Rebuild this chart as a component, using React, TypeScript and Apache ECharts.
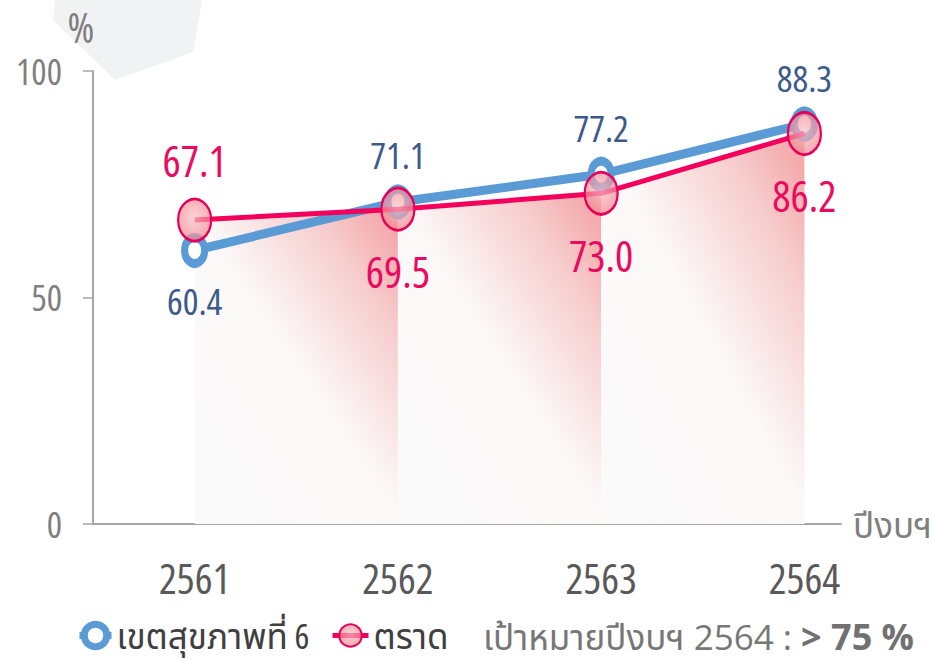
import React, { useEffect, useRef } from "react";
import * as echarts from "echarts";

const categories = ["2561", "2562", "2563", "2564"];
const region6 = [60.4, 71.1, 77.2, 88.3];
const trat = [67.1, 69.5, 73.0, 86.2];
const yTicks = [0, 50, 100];
const seriesNames = ["เขตสุขภาพที่ 6", "ตราด"];
const axisName = "ปีงบฯ";
const unitLabel = "%";
const targetLabel = "เป้าหมายปีงบฯ 2564 :";
const targetValue = "> 75 %";

const FONT = "'Open Sans', 'Noto Sans Thai', 'Noto Sans', sans-serif";
const TARGET_COLOR = "#777777";
const TARGET_BOLD_COLOR = "#717171";

export default function App() {
  const ref = useRef<HTMLDivElement>(null);
  useEffect(() => {
    if (!ref.current) return;
    const chart = echarts.init(ref.current, null, { renderer: "svg" });
    const xs = categories.map((_, i) => i + 1);
    const blueData = region6.map((v, i) => ({
      value: [xs[i], v],
      label: { offset: [0, v >= trat[i] ? -47 : 50] },
    }));
    const redData = trat.map((v, i) => ({
      value: [xs[i], v],
      label: { offset: [0, v > region6[i] ? -60 : 62] },
    }));
    const areaData = trat.map((v, i) => [xs[i], v]);

    const legendBase = {
      top: 618,
      padding: 0,
      itemWidth: 32,
      itemHeight: 28,
      textStyle: { fontSize: 35, lineHeight: 28, color: "#404040", fontFamily: FONT },
    };

    chart.setOption({
      animation: false,
      textStyle: { fontFamily: FONT },
      grid: { left: 93, right: 91, top: 71, bottom: 136, outerBoundsMode: "none", containLabel: false },
      legend: [
        {
          ...legendBase,
          left: 76,
          data: [{ name: seriesNames[0], itemStyle: { borderWidth: 7 }, lineStyle: { width: 7 } }],
        },
        {
          ...legendBase,
          left: 330,
          itemWidth: 36,
          data: [{ name: seriesNames[1], lineStyle: { width: 5 } }],
        },
      ],
      xAxis: {
        type: "value",
        min: 0.5,
        max: 4.18,
        name: axisName,
        nameLocation: "end",
        nameGap: 12,
        nameTextStyle: { fontSize: 35, color: "#7f7f7f", padding: [24, 0, 0, 0], fontFamily: FONT },
        axisLine: { show: true, lineStyle: { color: "#a6a6a6", width: 2 } },
        axisTick: {
          show: true,
          inside: true,
          length: 12,
          customValues: [1.5, 2.5, 3.5],
          lineStyle: { color: "#a6a6a6", width: 1.5 },
        },
        axisLabel: {
          customValues: xs,
          formatter: (v: number) => categories[Math.round(v) - 1] ?? "",
          fontSize: 42,
          color: "#595959",
          margin: 32,
          fontFamily: FONT,
        },
        splitLine: { show: false },
      },
      yAxis: {
        type: "value",
        min: 0,
        max: 100,
        interval: 50,
        axisLine: { show: true, lineStyle: { color: "#a6a6a6", width: 2 } },
        axisTick: { show: true, length: 10, lineStyle: { color: "#a6a6a6", width: 1.5 } },
        axisLabel: {
          fontSize: 36,
          color: "#7f7f7f",
          margin: 31,
          fontFamily: FONT,
          formatter: (v: number) => (yTicks.includes(v) ? String(v) : ""),
        },
        splitLine: { show: false },
      },
      graphic: [
        {
          type: "polygon",
          z: -10,
          shape: { points: [[55, 0], [53, 20], [115, 80], [193, 52], [202, 0]] },
          style: { fill: "#f1f2f4" },
        },
        {
          type: "text",
          x: 81,
          y: 27,
          style: {
            text: unitLabel,
            fontSize: 41,
            fill: "#7f7f7f",
            fontFamily: FONT,
            align: "center",
            verticalAlign: "middle",
          },
        },
        {
          type: "text",
          x: 792,
          y: 636,
          style: {
            text: targetLabel,
            fontSize: 35,
            fill: TARGET_COLOR,
            fontFamily: FONT,
            align: "right",
            verticalAlign: "middle",
          },
        },
        {
          type: "text",
          x: 914,
          y: 636,
          style: {
            text: targetValue,
            fontSize: 36,
            fontWeight: "bold",
            fill: TARGET_BOLD_COLOR,
            fontFamily: FONT,
            align: "right",
            verticalAlign: "middle",
          },
        },
      ],
      series: [
        {
          type: "custom",
          silent: true,
          z: 1,
          data: areaData,
          renderItem: (params: any, api: any) => {
            const i = params.dataIndex;
            if (i >= areaData.length - 1) return null;
            const p0 = api.coord(areaData[i]);
            const p1 = api.coord(areaData[i + 1]);
            const b0 = api.coord([areaData[i][0], 0]);
            const b1 = api.coord([areaData[i + 1][0], 0]);
            return {
              type: "polygon",
              shape: { points: [p0, p1, b1, b0] },
              style: {
                fill: new echarts.graphic.LinearGradient(0.15, 1, 1, 0.1, [
                  { offset: 0, color: "rgba(250,250,250,1)" },
                  { offset: 0.5, color: "rgba(252,248,248,1)" },
                  { offset: 0.82, color: "rgba(247,205,205,1)" },
                  { offset: 1, color: "rgba(244,170,172,1)" },
                ]),
              },
            };
          },
        },
        {
          name: seriesNames[0],
          type: "line",
          z: 3,
          data: blueData,
          symbol: "circle",
          symbolSize: [20, 26],
          lineStyle: { color: "#5b9bd5", width: 9 },
          itemStyle: { color: "#ffffff", borderColor: "#5b9bd5", borderWidth: 8 },
          label: {
            show: true,
            position: "inside",
            fontSize: 37,
            color: "#3c5a8c",
            fontFamily: FONT,
            formatter: (p: any) => p.value[1].toFixed(1),
          },
        },
        {
          name: seriesNames[1],
          type: "line",
          z: 4,
          data: redData,
          symbol: "circle",
          symbolSize: [33, 42],
          lineStyle: { color: "#f2005c", width: 5 },
          itemStyle: {
            color: new echarts.graphic.RadialGradient(0.5, 0.45, 0.6, [
              { offset: 0, color: "rgba(250,195,200,0.7)" },
              { offset: 1, color: "rgba(238,125,135,0.7)" },
            ]),
            borderColor: "#e6005a",
            borderWidth: 2.5,
          },
          label: {
            show: true,
            position: "inside",
            fontSize: 43,
            color: "#ea0a5e",
            fontFamily: FONT,
            formatter: (p: any) => p.value[1].toFixed(1),
          },
        },
      ],
    });
    return () => chart.dispose();
  }, []);
  const css =
    ".narrow-chart svg text { font-stretch: 75% !important; }" +
    `.narrow-chart svg text[fill="${TARGET_COLOR}"] { font-stretch: 90% !important; }` +
    `.narrow-chart svg text[fill="${TARGET_BOLD_COLOR}"] { font-stretch: 100% !important; }`;
  return (
    <>
      <style>{css}</style>
      <div
        ref={ref}
        className="narrow-chart"
        style={{ width: 932, height: 660, position: "absolute", left: 0, top: 0 }}
      />
    </>
  );
}
